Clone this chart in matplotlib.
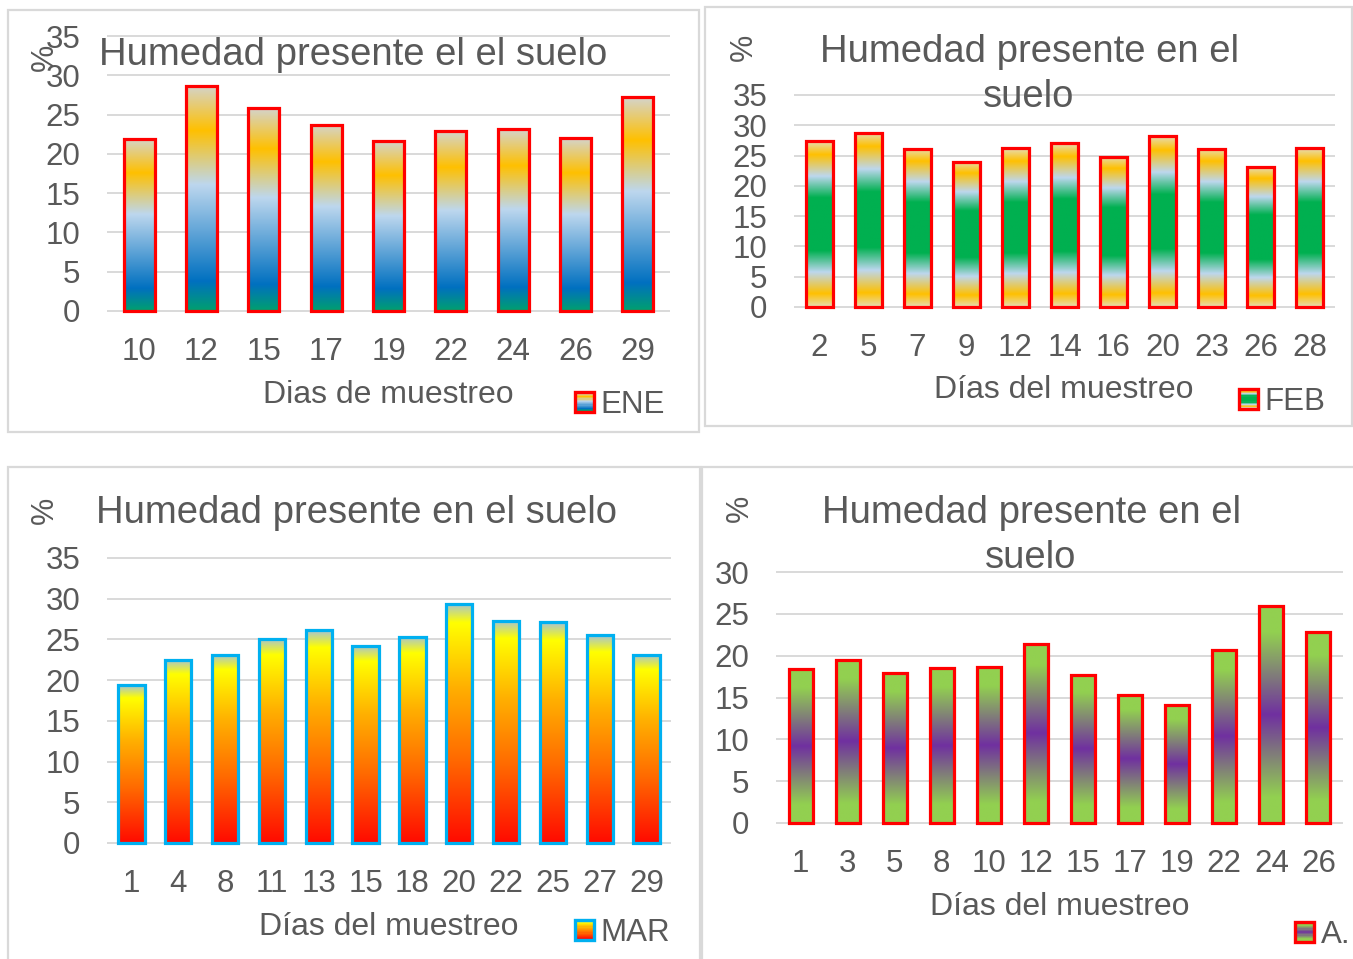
import numpy as np
import matplotlib
matplotlib.use("Agg")
import matplotlib.pyplot as plt
from matplotlib.colors import to_rgb
from matplotlib.patches import Rectangle
from matplotlib.legend_handler import HandlerBase

plt.rcParams['font.family'] = ['Liberation Sans', 'DejaVu Sans']

# ---------------- data ----------------
ene_days = ['10', '12', '15', '17', '19', '22', '24', '26', '29']
ene_vals = [21.9, 28.7, 25.8, 23.7, 21.6, 22.9, 23.1, 22.0, 27.2]

feb_days = ['2', '5', '7', '9', '12', '14', '16', '20', '23', '26', '28']
feb_vals = [27.4, 28.8, 26.1, 24.0, 26.2, 27.0, 24.8, 28.2, 26.1, 23.1, 26.2]

mar_days = ['1', '4', '8', '11', '13', '15', '18', '20', '22', '25', '27', '29']
mar_vals = [19.4, 22.5, 23.1, 25.1, 26.1, 24.2, 25.3, 29.4, 27.3, 27.1, 25.5, 23.1]

abr_days = ['1', '3', '5', '8', '10', '12', '15', '17', '19', '22', '24', '26']
abr_vals = [18.4, 19.5, 17.9, 18.5, 18.6, 21.4, 17.7, 15.3, 14.1, 20.7, 25.9, 22.8]

# ---------------- styles ----------------
W, H = 1353, 959
TXT = '#595959'
GRID = '#d9d9d9'

ene_grad = [(0.0, '#00a06e'), (0.13, '#0070c0'), (0.56, '#bdd7ee'),
            (0.80, '#ffc000'), (1.0, '#d4d4cc')]
feb_grad = [(0.0, '#e6dcb4'), (0.08, '#ffc000'), (0.21, '#bdd7ee'),
            (0.34, '#00b050'), (0.66, '#00b050'), (0.79, '#bdd7ee'),
            (0.92, '#ffc000'), (1.0, '#e6dcb4')]
mar_grad = [(0.0, '#ff0a00'), (0.35, '#ff6a00'), (0.65, '#ffb000'),
            (0.92, '#ffff00'), (1.0, '#a8c4d4')]
abr_grad = [(0.0, '#92d050'), (0.12, '#92d050'), (0.5, '#7030a0'),
            (0.88, '#92d050'), (1.0, '#92d050')]


def grad_colors(stops, n=256):
    pos = np.array([s[0] for s in stops])
    cols = np.array([to_rgb(s[1]) for s in stops])
    t = np.linspace(0, 1, n)
    return np.stack([np.interp(t, pos, cols[:, k]) for k in range(3)], axis=1)


class GradHandler(HandlerBase):
    def __init__(self, stops, edge):
        super().__init__()
        self.stops = stops
        self.edge = edge

    def create_artists(self, legend, orig_handle, xdescent, ydescent,
                       width, height, fontsize, trans):
        size = min(width, height)
        x0 = -xdescent
        y0 = -ydescent + (height - size) / 2
        n = 16
        cols = grad_colors(self.stops, n)
        arts = []
        for i in range(n):
            arts.append(Rectangle((x0, y0 + size * i / n), size, size / n + 0.3,
                                  facecolor=cols[i], edgecolor='none',
                                  transform=trans))
        arts.append(Rectangle((x0, y0), size, size, facecolor='none',
                              edgecolor=self.edge, linewidth=2.4,
                              transform=trans))
        return arts


fig = plt.figure(figsize=(W / 100, H / 100), dpi=100)


def fx(x):
    return x / W


def fy(y):
    return 1 - y / H


def border(x0, y0, x1, y1):
    fig.add_artist(Rectangle((fx(x0), fy(y1)), fx(x1) - fx(x0), fy(y0) - fy(y1),
                             transform=fig.transFigure, fill=False,
                             edgecolor=GRID, linewidth=1.6))


def panel(box, days, vals, ymax, stops, edge, width, name,
          title_lines, title_x, title_base, pct_xy, xlabel, xlabel_xy, leg_xy):
    left, top, right, bottom = box
    ax = fig.add_axes([fx(left), fy(bottom), fx(right) - fx(left), fy(top) - fy(bottom)])
    x = np.arange(len(days))
    bars = ax.bar(x, vals, width=width, facecolor='none', edgecolor=edge,
                  linewidth=2.3, zorder=3, clip_on=False)
    for b in bars:
        x0 = b.get_x()
        h = b.get_height()
        arr = grad_colors(stops)[:, None, :]
        im = ax.imshow(arr, extent=(x0, x0 + b.get_width(), 0, h), origin='lower',
                       aspect='auto', interpolation='bilinear', zorder=2)
        im.set_clip_path(b)
    ax.set_xlim(-0.5, len(days) - 0.5)
    ax.set_ylim(0, ymax)
    ax.set_yticks(np.arange(0, ymax + 1, 5))
    ax.set_xticks(x)
    ax.set_xticklabels(days)
    ax.tick_params(axis='both', length=0, labelsize=22.5, colors=TXT)
    ax.tick_params(axis='y', pad=20)
    ax.tick_params(axis='x', pad=18.5)
    ax.yaxis.grid(True, color=GRID, linewidth=1.4)
    for gl in ax.get_ygridlines():
        gl.set_clip_on(False)
    ax.set_axisbelow(True)
    for s in ax.spines.values():
        s.set_visible(False)
    ax.patch.set_alpha(0)

    for i, line in enumerate(title_lines):
        fig.text(fx(title_x), fy(title_base + i * 45), line, ha='center',
                 va='baseline', fontsize=27.5, color=TXT)
    fig.text(fx(pct_xy[0]), fy(pct_xy[1]), '%', rotation=90, ha='center',
             va='center', fontsize=22, color=TXT)
    fig.text(fx(xlabel_xy[0]), fy(xlabel_xy[1]), xlabel, ha='center',
             va='baseline', fontsize=23, color=TXT)
    handle = Rectangle((0, 0), 1, 1)
    ax.legend([handle], [name], handler_map={Rectangle: GradHandler(stops, edge)},
              loc='center left', bbox_to_anchor=(fx(leg_xy[0]), fy(leg_xy[1])),
              bbox_transform=fig.transFigure, frameon=False, borderpad=0,
              borderaxespad=0, handlelength=0.62, handleheight=0.62,
              handletextpad=0.2, fontsize=22.5, labelcolor=TXT)
    return ax


border(8, 10, 699, 432)
border(705, 7, 1352, 426)
border(8, 467, 700, 962)
border(702, 467, 1355, 962)

panel((108, 36, 669, 311), ene_days, ene_vals, 35, ene_grad, '#ff0000', 0.5, 'ENE',
      ['Humedad presente el el suelo'], 353, 65, (45, 57),
      'Dias de muestreo', (388, 403), (575, 405))

panel((795, 95, 1334, 307), feb_days, feb_vals, 35, feb_grad, '#ff0000', 0.56, 'FEB',
      ['Humedad presente en el', 'suelo'], 1029, 62, (744, 47),
      'Días del muestreo', (1064, 398), (1239, 402))

panel((108, 558, 670, 843), mar_days, mar_vals, 35, mar_grad, '#00b0f0', 0.56, 'MAR',
      ['Humedad presente en el suelo'], 356, 523, (45, 510),
      'Días del muestreo', (389, 935), (575, 933))

panel((777, 572, 1342, 823), abr_days, abr_vals, 30, abr_grad, '#ff0000', 0.51, 'A.',
      ['Humedad presente en el', 'suelo'], 1031, 523, (740, 508),
      'Días del muestreo', (1060, 915), (1295, 935))

fig.savefig('out.png', dpi=100)
